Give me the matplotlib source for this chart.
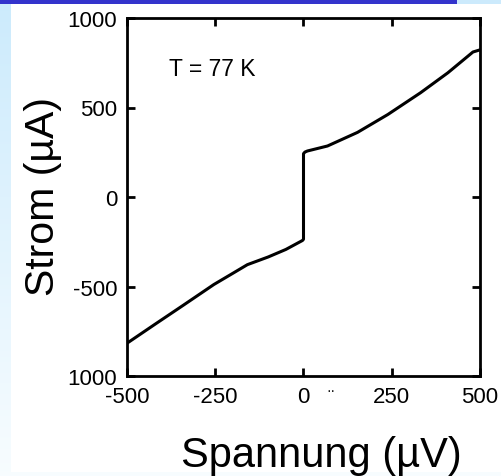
import numpy as np
import matplotlib
matplotlib.use("Agg")
import matplotlib.pyplot as plt

# Data (voltage in µV, current in µA)
voltage = [-500, -420, -340, -254, -200, -159, -100, -50, -3, 0, 0, 4, 11, 68, 153, 239, 332, 409, 480, 500]
current = [-817, -710, -604, -489, -426, -378, -335, -293, -243, -236, 242, 251, 257, 285, 361, 461, 583, 694, 810, 822]

x_ticks = [-500, -250, 0, 250, 500]
x_tick_labels = ["-500", "-250", "0", "250", "500"]
y_ticks = [1000, 500, 0, -500, -1000]
y_tick_labels = ["1000", "500", "0", "-500", "1000"]

W, H = 502, 477
fig = plt.figure(figsize=(W / 100, H / 100), dpi=100)
plt.rcParams['font.family'] = ['Liberation Sans', 'DejaVu Sans']

# Background: light blue gradient with white panel and blue top bar
bg = fig.add_axes([0, 0, 1, 1], zorder=-10)
bg.set_xlim(0, W)
bg.set_ylim(H, 0)
bg.axis('off')
grad = np.linspace(0, 1, 256).reshape(-1, 1)
top_c = np.array([0.80, 0.92, 0.99])
bot_c = np.array([0.97, 0.99, 1.0])
img = top_c[None, None, :] * (1 - grad[:, :, None]) + bot_c[None, None, :] * grad[:, :, None]
bg.imshow(img, extent=[0, W, H, 0], aspect='auto')
bg.add_patch(plt.Rectangle((11, 5), W - 11, 468, color='white', lw=0))
bg.add_patch(plt.Rectangle((0, 0), 457, 5, color='#3333cc', lw=0))

# Main axes: left 127, right 480, top 19, bottom 377 (pixels)
ax = fig.add_axes([127 / W, 1 - 377 / H, (480 - 127) / W, (377 - 19) / H])
ax.set_facecolor('none')
ax.plot(voltage, current, color='black', lw=2.2, solid_joinstyle='round')
ax.set_xlim(-500, 500)
ax.set_ylim(-1000, 1000)
ax.set_xticks(x_ticks)
ax.set_xticklabels(x_tick_labels)
ax.set_yticks(y_ticks)
ax.set_yticklabels(y_tick_labels)
ax.tick_params(direction='in', length=6, width=2, top=True, right=True,
               labelsize=16, pad=7, colors='black')
for s in ax.spines.values():
    s.set_linewidth(2)

ax.text(-380, 720, "T = 77 K", fontsize=16.5, va='center', ha='left')
ax.text(77, -1080, "··", fontsize=10, ha='center', va='center')

fig.text(321 / W, 1 - 456 / H, "Spannung (µV)", fontsize=30, ha='center', va='center')
fig.text(43 / W, 1 - 196 / H, "Strom (µA)", fontsize=29.5, ha='center', va='center', rotation=90)

fig.savefig("out.png", dpi=100)
